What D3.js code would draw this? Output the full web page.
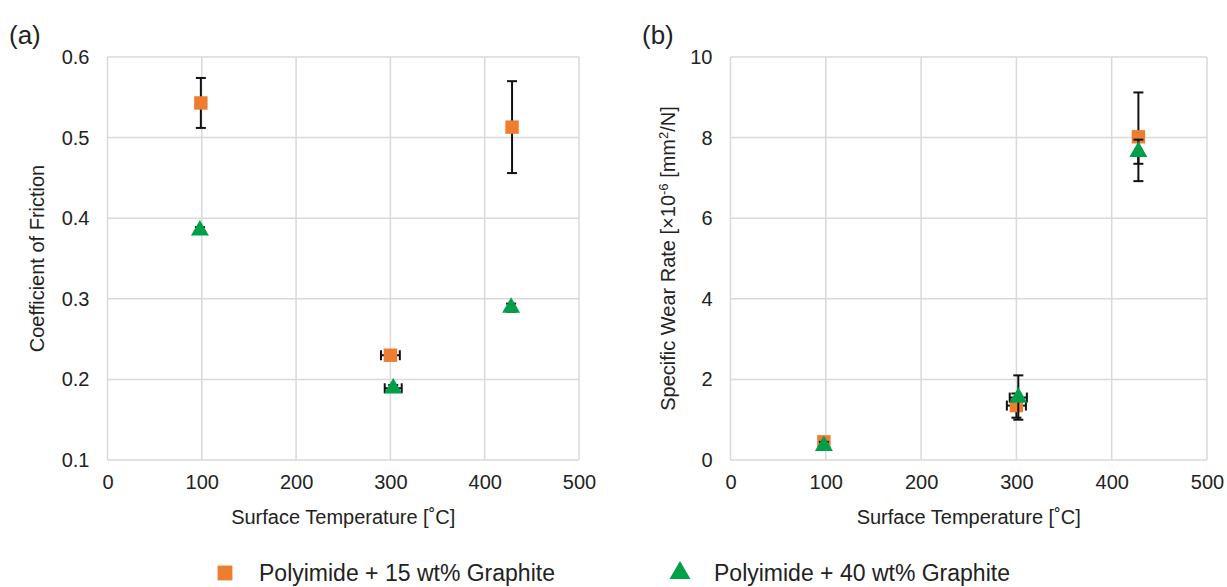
<!DOCTYPE html>
<html>
<head>
<meta charset="utf-8">
<script src="https://cdn.jsdelivr.net/npm/d3@7"></script>
<style>
  body { margin: 0; background: #fff; }
  text { font-family: "Liberation Sans", Arial, sans-serif; fill: #222; }
</style>
</head>
<body>
<div id="chart"></div>
<script>
// series names
const seriesNames = ['Polyimide + 15 wt% Graphite', 'Polyimide + 40 wt% Graphite'];
const seriesColors = ['#ED7D31', '#00A04B'];

// panel (a): coefficient of friction
const fricTemp15 = [99, 300, 429];
const fricVal15 = [0.543, 0.230, 0.513];
const fricErrY15 = [0.031, 0.005, 0.057];
const fricErrX15 = [0, 10, 0];
const fricTemp40 = [98, 303, 428];
const fricVal40 = [0.385, 0.189, 0.289];
const fricErrY40 = [0.004, 0.004, 0.005];
const fricErrX40 = [0, 9, 0];

// panel (b): specific wear rate
const wearTemp15 = [98, 300, 428];
const wearVal15 = [0.45, 1.35, 8.02];
const wearErrY15 = [0.12, 0.3, 1.1];
const wearErrX15 = [0, 10, 0];
const wearTemp40 = [98, 302, 428];
const wearVal40 = [0.35, 1.55, 7.65];
const wearErrY40 = [0.1, 0.55, 0.3];
const wearErrX40 = [0, 9, 0];

const xTicks = [0, 100, 200, 300, 400, 500];
const fricTicks = [0.1, 0.2, 0.3, 0.4, 0.5, 0.6];
const wearTicks = [0, 2, 4, 6, 8, 10];

const W = 1227, H = 587;
const svg = d3.select('#chart').append('svg')
  .attr('width', W).attr('height', H);

function pts(t, v, ey, ex) {
  return t.map((d, i) => ({x: d, y: v[i], ey: ey[i], ex: ex[i]}));
}

function panel(opt) {
  const x = d3.scaleLinear().domain([0, 500]).range([opt.left, opt.right]);
  const y = d3.scaleLinear().domain(opt.yDomain).range([460, 57]);
  const g = svg.append('g');

  // grid
  g.append('g').selectAll('line').data(xTicks).join('line')
    .attr('x1', d => x(d)).attr('x2', d => x(d))
    .attr('y1', y.range()[1]).attr('y2', y.range()[0])
    .attr('stroke', '#d9d9d9').attr('stroke-width', 1.5);
  g.append('g').selectAll('line').data(opt.yTicks).join('line')
    .attr('x1', x(0)).attr('x2', x(500))
    .attr('y1', d => y(d)).attr('y2', d => y(d))
    .attr('stroke', '#d9d9d9').attr('stroke-width', 1.5);

  // axes (labels only)
  const ax = g.append('g').attr('transform', `translate(0,460)`)
    .call(d3.axisBottom(x).tickValues(xTicks).tickSize(0).tickPadding(15));
  ax.select('.domain').remove();
  const ay = g.append('g').attr('transform', `translate(${x(0)},0)`)
    .call(d3.axisLeft(y).tickValues(opt.yTicks).tickSize(0).tickPadding(opt.yPad)
      .tickFormat(opt.fmt));
  ay.select('.domain').remove();
  g.selectAll('.tick text').style('font-size', '20px')
    .style('font-family', '"Liberation Sans", Arial, sans-serif').attr('fill', '#222');

  g.append('text').attr('x', (x(0) + x(500)) / 2).attr('y', 524)
    .attr('text-anchor', 'middle').style('font-size', '20px')
    .text('Surface Temperature [˚C]');

  const yl = g.append('text')
    .attr('transform', `translate(${opt.yLabelX},${(y.range()[0] + y.range()[1]) / 2}) rotate(-90)`)
    .attr('text-anchor', 'middle').style('font-size', '20px');
  opt.yLabel(yl);

  g.append('text').attr('x', opt.tagX).attr('y', 44)
    .style('font-size', '26px').text(opt.tag);

  // data
  opt.series.forEach((s, si) => {
    const eg = g.append('g').attr('stroke', '#111').attr('stroke-width', 2);
    s.forEach(d => {
      if (d.ey > 0) {
        eg.append('line').attr('x1', x(d.x)).attr('x2', x(d.x))
          .attr('y1', y(d.y - d.ey)).attr('y2', y(d.y + d.ey));
        [d.y - d.ey, d.y + d.ey].forEach(v => eg.append('line')
          .attr('x1', x(d.x) - 5).attr('x2', x(d.x) + 5)
          .attr('y1', y(v)).attr('y2', y(v)));
      }
      if (d.ex > 0) {
        eg.append('line').attr('x1', x(d.x - d.ex)).attr('x2', x(d.x + d.ex))
          .attr('y1', y(d.y)).attr('y2', y(d.y));
        [d.x - d.ex, d.x + d.ex].forEach(v => eg.append('line')
          .attr('x1', x(v)).attr('x2', x(v))
          .attr('y1', y(d.y) - 5).attr('y2', y(d.y) + 5));
      }
    });
    const sym = si === 0 ? d3.symbolSquare : d3.symbolTriangle;
    const size = si === 0 ? 180 : 140;
    g.append('g').selectAll('path').data(s).join('path')
      .attr('d', d3.symbol().type(sym).size(size))
      .attr('transform', d => `translate(${x(d.x)},${y(d.y)})`)
      .attr('fill', seriesColors[si]);
  });
}

panel({
  left: 107.5, right: 579, yDomain: [0.1, 0.6], yTicks: fricTicks,
  fmt: d3.format('.1f'), yPad: 18, yLabelX: 44, tag: '(a)', tagX: 9,
  yLabel: t => t.text('Coefficient of Friction'),
  series: [pts(fricTemp15, fricVal15, fricErrY15, fricErrX15),
           pts(fricTemp40, fricVal40, fricErrY40, fricErrX40)]
});

panel({
  left: 730.5, right: 1207, yDomain: [0, 10], yTicks: wearTicks,
  fmt: d3.format('d'), yPad: 18, yLabelX: 675, tag: '(b)', tagX: 642,
  yLabel: t => {
    t.append('tspan').text('Specific Wear Rate [×10');
    t.append('tspan').attr('dy', -7).style('font-size', '13px').text('-6');
    t.append('tspan').attr('dy', 7).text(' [mm');
    t.append('tspan').attr('dy', -7).style('font-size', '13px').text('2');
    t.append('tspan').attr('dy', 7).text('/N]');
  },
  series: [pts(wearTemp15, wearVal15, wearErrY15, wearErrX15),
           pts(wearTemp40, wearVal40, wearErrY40, wearErrX40)]
});

// legend
const leg = svg.append('g');
const legX = [225, 680];
seriesNames.forEach((n, i) => {
  leg.append('path')
    .attr('d', d3.symbol().type(i === 0 ? d3.symbolSquare : d3.symbolTriangle).size(i === 0 ? 220 : 190))
    .attr('transform', `translate(${legX[i]},${573})`)
    .attr('fill', seriesColors[i]);
  leg.append('text').attr('x', legX[i] + 34).attr('y', 581)
    .style('font-size', '23px').text(n);
});
</script>
</body>
</html>
